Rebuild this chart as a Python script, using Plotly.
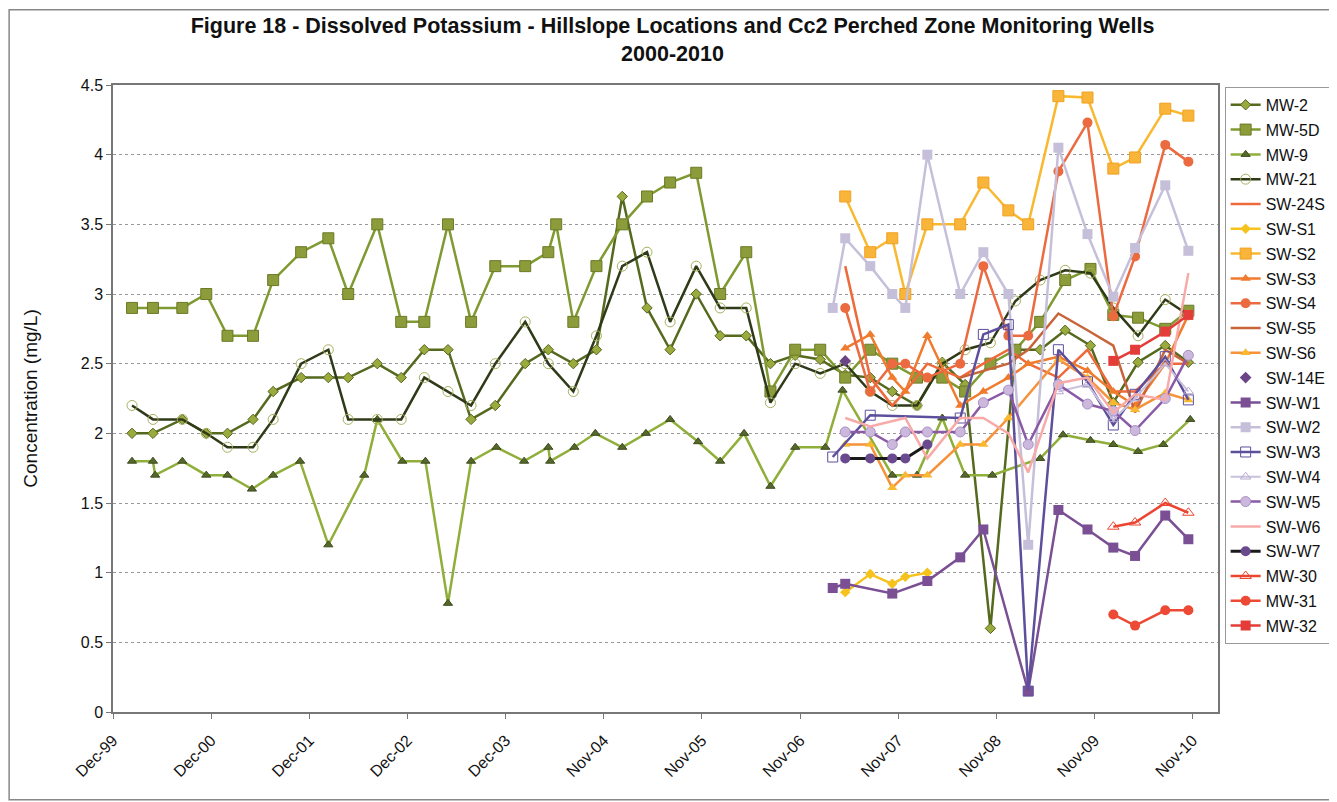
import plotly.graph_objects as go
import pandas as pd

# sampling dates
early_dates = ["2000-02-28", "2000-05-15", "2000-08-31", "2000-11-27", "2001-02-13", "2001-05-18",
               "2001-07-31", "2001-11-11", "2002-02-19", "2002-05-03", "2002-08-18", "2002-11-14",
               "2003-02-07", "2003-05-05", "2003-07-29", "2003-10-26", "2004-02-13", "2004-05-08",
               "2004-06-06", "2004-08-08", "2004-11-01", "2005-02-04", "2005-05-06", "2005-07-30",
               "2005-11-03", "2006-01-30", "2006-05-06"]
late_dates = ["2006-08-03", "2006-11-02", "2007-02-02", "2007-05-05", "2007-08-05", "2007-10-25",
              "2008-01-24", "2008-04-26", "2008-07-19", "2008-10-20", "2009-01-20", "2009-04-21",
              "2009-07-22", "2009-10-23", "2010-01-15", "2010-04-16", "2010-07-25", "2010-10-18"]
mw_dates = early_dates + late_dates
mw9_dates = ["2000-02-28", "2000-05-15", "2000-05-23", "2000-08-31", "2000-11-27", "2001-02-13",
             "2001-05-14", "2001-07-31", "2001-11-07", "2002-02-19", "2002-07-01", "2002-08-18",
             "2002-11-18", "2003-02-11", "2003-05-05", "2003-07-29", "2003-10-30", "2004-02-09",
             "2004-05-08", "2004-05-15", "2004-08-12", "2004-10-28", "2005-02-04", "2005-05-02",
             "2005-07-30", "2005-11-10", "2006-01-30", "2006-04-28", "2006-08-03", "2006-11-02",
             "2007-02-21", "2007-04-25", "2007-10-25", "2008-01-24", "2008-04-26", "2008-07-19",
             "2008-10-27", "2009-04-21", "2009-07-14", "2009-10-23", "2010-01-15", "2010-04-16",
             "2010-07-18", "2010-10-25"]
sw_dates = ["2007-03-20", "2007-05-05", "2007-08-05", "2007-10-25", "2007-12-12", "2008-03-02",
            "2008-07-01", "2008-09-24", "2008-12-25", "2009-03-08", "2009-06-27", "2009-10-12",
            "2010-01-15", "2010-04-05", "2010-07-25", "2010-10-18"]

N = None
mw2 = [2.0, 2.0, 2.1, 2.0, 2.0, 2.1, 2.3, 2.4, 2.4, 2.4, 2.5, 2.4, 2.6, 2.6, 2.1, 2.2, 2.5, 2.6, N,
       2.5, 2.6, 3.7, 2.9, 2.6, 3.0, 2.7, 2.7,
       2.5, 2.56, 2.53, 2.42, 2.4, 2.3, 2.2, 2.51, 2.35, 0.6, 2.6, 2.6, 2.74, 2.63, 2.22, 2.51, 2.63, 2.51]
mw5d = [2.9, 2.9, 2.9, 3.0, 2.7, 2.7, 3.1, 3.3, 3.4, 3.0, 3.5, 2.8, 2.8, 3.5, 2.8, 3.2, 3.2, 3.3, 3.5,
        2.8, 3.2, 3.5, 3.7, 3.8, 3.87, 3.0, 3.3,
        2.3, 2.6, 2.6, 2.4, 2.6, 2.5, 2.4, 2.4, 2.3, 2.5, 2.6, 2.8, 3.1, 3.18, 2.85, 2.83, 2.75, 2.88]
mw9 = [1.8, 1.8, 1.7, 1.8, 1.7, 1.7, 1.6, 1.7, 1.8, 1.2, 1.7, 2.1, 1.8, 1.8, 0.78, 1.8, 1.9, 1.8,
       1.9, 1.8, 1.9, 2.0, 1.9, 2.0, 2.1, 1.94, 1.8, 2.0, 1.62, 1.9, 1.9, 2.31, 1.7, 1.7, 2.11, 1.7,
       1.7, 1.82, 1.99, 1.95, 1.92, 1.87, 1.92, 2.1]
mw21 = [2.2, 2.1, 2.1, 2.0, 1.9, 1.9, 2.1, 2.5, 2.6, 2.1, 2.1, 2.1, 2.4, 2.3, 2.2, 2.5, 2.8, 2.5, N,
        2.3, 2.7, 3.2, 3.3, 2.8, 3.2, 2.9, 2.9,
        2.22, 2.5, 2.43, 2.5, 2.3, 2.2, 2.2, 2.5, 2.6, 2.65, 2.95, 3.1, 3.17, 3.15, 2.9, 2.7, 2.96, 2.85]

sw24s = [N, 3.2, 2.4, 2.2, 2.3, 2.5, 2.4, 2.5, 2.6, 2.5, 2.4, 2.6, 2.3, 2.3, 2.5, 2.5]
sws1 = [N, 0.86, 0.99, 0.92, 0.97, 1.0, N, N, N, N, N, N, N, N, N, N]
sws2 = [N, 3.7, 3.3, 3.4, 3.0, 3.5, 3.5, 3.8, 3.6, 3.5, 4.42, 4.41, 3.9, 3.98, 4.33, 4.28]
sws3 = [N, 2.61, 2.71, 2.4, 2.3, 2.7, 2.2, 2.3, 2.4, 2.5, 2.55, 2.45, 2.3, 2.2, 2.5, 2.85]
sws4 = [N, 2.9, 2.3, 2.5, 2.5, 2.4, 2.5, 3.2, 2.7, 2.7, 3.88, 4.23, 2.84, 3.27, 4.07, 3.95]
sws5 = [N, N, N, N, N, N, 2.4, 2.45, 2.5, 2.6, 2.86, 2.74, 2.63, 2.15, 2.6, 2.5]
sws6 = [N, 1.92, 1.92, 1.61, 1.7, 1.7, 1.92, 1.92, 2.11, N, 2.53, 2.4, 2.22, 2.17, 2.29, 2.24]
sw14e = [N, 2.52, N, N, N, N, N, N, N, N, N, N, N, N, N, N]
sww1 = [0.89, 0.92, N, 0.85, N, 0.94, 1.11, 1.31, N, 0.15, 1.45, 1.31, 1.18, 1.12, 1.41, 1.24]
sww2 = [2.9, 3.4, 3.2, 3.0, 2.9, 4.0, 3.0, 3.3, 3.0, 1.2, 4.05, 3.43, 2.98, 3.33, 3.78, 3.31]
sww3 = [1.83, N, 2.13, N, N, N, 2.11, 2.71, 2.78, 0.15, 2.6, 2.37, 2.06, 2.28, 2.55, 2.24]
sww4 = [N, N, N, N, N, N, N, N, N, N, 2.3, 2.35, 2.1, 2.25, 2.5, 2.3]
sww5 = [N, 2.01, 2.01, 1.92, 2.01, 2.01, 2.01, 2.22, 2.31, 1.92, 2.35, 2.21, 2.16, 2.02, 2.25, 2.56]
sww6 = [N, 2.11, 2.05, N, 2.11, 1.82, 2.11, 2.11, 2.0, 1.72, 2.36, 2.4, 2.15, 2.28, 2.24, 3.15]
sww7 = [N, 1.82, 1.82, 1.82, 1.82, 1.92, N, N, N, N, N, N, N, N, N, N]
mw30 = [N, N, N, N, N, N, N, N, N, N, N, N, 1.33, 1.36, 1.5, 1.43]
mw31 = [N, N, N, N, N, N, N, N, N, N, N, N, 0.7, 0.62, 0.73, 0.73]
mw32 = [N, N, N, N, N, N, N, N, N, N, N, N, 2.52, 2.6, 2.73, 2.85]

tick_labels = ["Dec-99", "Dec-00", "Dec-01", "Dec-02", "Dec-03", "Nov-04",
               "Nov-05", "Nov-06", "Nov-07", "Nov-08", "Nov-09", "Nov-10"]
tick_dates = pd.date_range("1999-12-20", periods=len(tick_labels), freq="361D")

# name, x, y, line colour, line width, marker symbol, marker colour, marker size, marker edge
series = [
    ("MW-2", mw_dates, mw2, "#55691f", 2.5, "diamond", "#9aaa3c", 8, "#55661e"),
    ("MW-5D", mw_dates, mw5d, "#7f9a30", 2.5, "square", "#8c9c3a", 11, "#6b7a26"),
    ("MW-9", mw9_dates, mw9, "#8fae3a", 2.5, "triangle-up", "#56682c", 8, "#3c4a1c"),
    ("MW-21", mw_dates, mw21, "#2f3a18", 2.5, "circle-open", "#a8b060", 10, None),
    ("SW-24S", sw_dates, sw24s, "#ee6a3a", 2.5, None, None, 0, None),
    ("SW-S1", sw_dates, sws1, "#f6c21c", 2.5, "diamond", "#f6c21c", 8, None),
    ("SW-S2", sw_dates, sws2, "#f8b830", 2.5, "square", "#f9b53a", 11, "#f0a020"),
    ("SW-S3", sw_dates, sws3, "#f07b2e", 2.5, "triangle-up", "#f07b2e", 9, None),
    ("SW-S4", sw_dates, sws4, "#ec6a40", 2.5, "circle", "#ec6a40", 10, None),
    ("SW-S5", sw_dates, sws5, "#c8643a", 2.5, "cross-thin", "#c8643a", 8, None),
    ("SW-S6", sw_dates, sws6, "#f5923a", 2.5, "triangle-up", "#f8b830", 9, None),
    ("SW-14E", sw_dates, sw14e, None, 0, "diamond", "#6a4486", 9, None),
    ("SW-W1", sw_dates, sww1, "#7a4f94", 2.5, "square", "#7a4f94", 10, None),
    ("SW-W2", sw_dates, sww2, "#c6bfda", 2.5, "square", "#c6bfda", 10, None),
    ("SW-W3", sw_dates, sww3, "#5e4f9c", 2.5, "square-open", "#5e4f9c", 10, None),
    ("SW-W4", sw_dates, sww4, "#c9c1dd", 2.0, "triangle-up-open", "#b8a8d0", 9, None),
    ("SW-W5", sw_dates, sww5, "#8a5aa6", 2.5, "circle", "#cbb8dc", 10, "#a890c4"),
    ("SW-W6", sw_dates, sww6, "#f7aaa8", 2.5, "cross-thin", "#f7aaa8", 8, None),
    ("SW-W7", sw_dates, sww7, "#1a1a1a", 3, "circle", "#6a4a8e", 10, None),
    ("MW-30", sw_dates, mw30, "#ec4430", 2.5, "triangle-up-open", "#ec4430", 10, None),
    ("MW-31", sw_dates, mw31, "#ec4a34", 2.5, "circle", "#ec4a34", 10, None),
    ("MW-32", sw_dates, mw32, "#e43c38", 2.5, "square", "#e43c38", 10, None),
]

fig = go.Figure()
for name, xs, ys, lc, lw, sym, mc, ms, edge in series:
    mode = "markers" if lc is None else ("lines" if sym is None else "lines+markers")
    kw = dict(x=pd.to_datetime(xs), y=ys, name=name, mode=mode, connectgaps=True,
              legendgroup=name)
    if lc is not None:
        kw["line"] = dict(color=lc, width=lw)
    if sym is not None:
        kw["marker"] = dict(symbol=sym, color=mc, size=ms,
                            line=dict(color=edge if edge else mc, width=1 if edge else 0))
    fig.add_trace(go.Scatter(**kw))

# page body adds an 8px offset, so the figure is sized and placed to compensate
fig.update_layout(
    width=1329, height=794,
    paper_bgcolor="white", plot_bgcolor="white",
    font=dict(family="Arial, Liberation Sans, sans-serif", size=16, color="#111"),
    title=dict(text="<b>Figure 18 - Dissolved Potassium - Hillslope Locations and Cc2 Perched Zone Monitoring Wells"
                    "<br>2000-2010</b>",
               x=0.5, xanchor="center", y=0.968, yanchor="top", font=dict(size=21.5)),
    margin=dict(l=105, r=119, t=77, b=90, autoexpand=False),
    showlegend=True,
    legend=dict(x=1.006, xanchor="left", y=0.997, yanchor="top", bgcolor="white",
                bordercolor="#999", borderwidth=1, tracegroupgap=1,
                font=dict(size=16)),
    shapes=[dict(type="rect", xref="paper", yref="paper", x0=-0.094, x1=1.105, y0=-0.14, y1=1.12,
                 line=dict(color="#888", width=1.5))],
)
fig.update_xaxes(range=[pd.Timestamp("1999-12-20"), pd.Timestamp("2011-02-04")],
                 tickvals=tick_dates, ticktext=tick_labels, tickangle=-45, ticklabelstandoff=6,
                 showgrid=False, showline=True, linecolor="#777", linewidth=1.5, mirror=True,
                 ticks="outside", ticklen=5, tickcolor="#777", zeroline=False)
fig.update_yaxes(range=[0, 4.5], dtick=0.5, tickformat="~g", showgrid=True, gridcolor="#999",
                 griddash="dot", showline=True, linecolor="#777", linewidth=1.5, mirror=True,
                 ticks="outside", ticklen=5, tickcolor="#777", zeroline=False,
                 title=dict(text="Concentration (mg/L)", standoff=38, font=dict(size=19)))

fig.write_html("out.html")
